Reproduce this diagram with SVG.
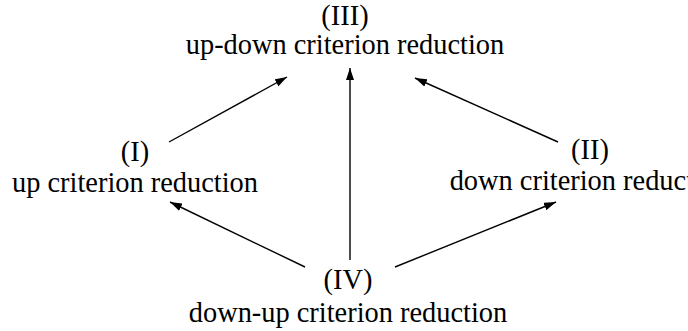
<svg xmlns="http://www.w3.org/2000/svg" width="688" height="331" viewBox="0 0 688 331">
<style>
text{font-family:"Liberation Serif","Times New Roman",serif;font-size:28.4px;fill:#000;text-anchor:middle}
.c line{stroke:#000;stroke-width:1.4;fill:none}
</style>
<defs>
<marker id="ah" viewBox="0 0 12 8" refX="12" refY="4" markerWidth="12" markerHeight="8" markerUnits="userSpaceOnUse" orient="auto">
<path d="M0,0 L12,4 L0,8 Z" fill="#000"/>
</marker>
</defs>
<rect width="688" height="331" fill="#fff"/>
<g id="n3"><text x="345" y="25">(III)</text><text x="345" y="54">up-down criterion reduction</text></g>
<g id="n1"><text x="135" y="161">(I)</text><text x="135" y="192">up criterion reduction</text></g>
<g id="n2"><text x="590" y="159">(II)</text><text x="590" y="190">down criterion reduction</text></g>
<g id="n4"><text x="348" y="289">(IV)</text><text x="348" y="322">down-up criterion reduction</text></g>
<g class="c" id="connectors">
<line x1="169" y1="142" x2="287" y2="77" marker-end="url(#ah)"/>
<line x1="558" y1="142" x2="415" y2="78" marker-end="url(#ah)"/>
<line x1="350" y1="260" x2="350" y2="68" marker-end="url(#ah)"/>
<line x1="305" y1="267" x2="170" y2="202" marker-end="url(#ah)"/>
<line x1="395" y1="267" x2="556" y2="202" marker-end="url(#ah)"/>
</g>
</svg>
